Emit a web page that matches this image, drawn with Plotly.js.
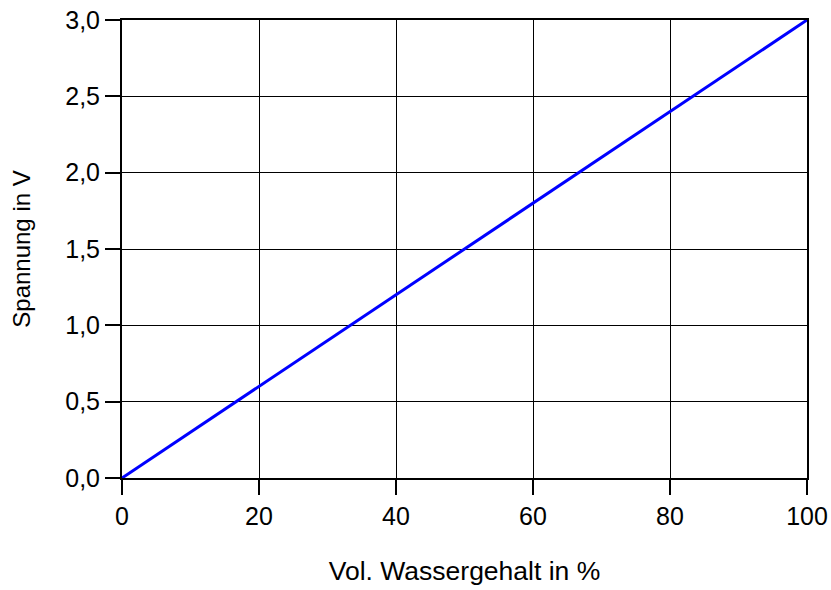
<!DOCTYPE html>
<html>
<head>
<meta charset="utf-8">
<script src="https://cdn.plot.ly/plotly-3.0.1.min.js"></script>
<style>html,body{margin:0;padding:0;background:#fff;}#chart{width:831px;height:590px;}</style>
</head>
<body>
<div id="chart"></div>
<script>
const wassergehalt = [0, 100];
const spannung = [0, 3.0];
const xTicks = [0, 20, 40, 60, 80, 100];
const yTicks = [0, 0.5, 1.0, 1.5, 2.0, 2.5, 3.0];

const fam = 'Liberation Sans, Arial, sans-serif';
const font = {family: fam, size: 25, color: '#000'};

Plotly.newPlot('chart', [{
  x: wassergehalt, y: spannung, type: 'scatter', mode: 'lines',
  line: {color: '#0000ff', width: 3}, hoverinfo: 'skip'
}], {
  width: 831, height: 590,
  margin: {l: 122, r: 24, t: 20, b: 112},
  paper_bgcolor: '#fff', plot_bgcolor: '#fff',
  separators: ',.',
  font: font,
  showlegend: false,
  xaxis: {
    range: [0, 100], tickvals: xTicks, ticks: 'outside', ticklen: 15, tickwidth: 2, tickcolor: '#000',
    showgrid: true, gridcolor: '#000', gridwidth: 1,
    showline: true, linecolor: '#000', linewidth: 2, mirror: true,
    zeroline: false, tickfont: font,
    title: {text: 'Vol. Wassergehalt in %', font: {family: fam, size: 26.5, color: '#000'}, standoff: 32}
  },
  yaxis: {
    range: [0, 3], tickvals: yTicks, tickformat: '.1f', ticks: 'outside', ticklen: 15, tickwidth: 2, tickcolor: '#000',
    showgrid: true, gridcolor: '#000', gridwidth: 1,
    showline: true, linecolor: '#000', linewidth: 2, mirror: true,
    zeroline: false, tickfont: font,
    title: {text: 'Spannung in V', font: {family: fam, size: 24, color: '#000'}, standoff: 28}
  }
}, {staticPlot: true});
</script>
</body>
</html>
